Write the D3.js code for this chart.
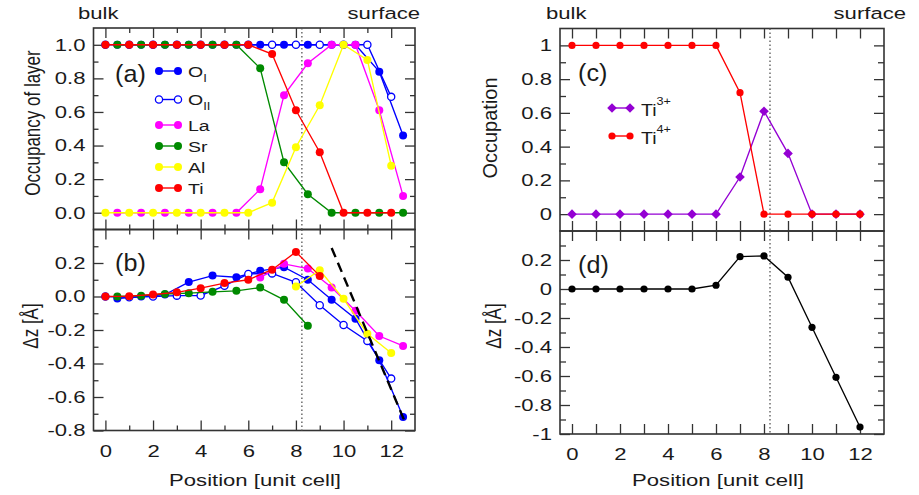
<!DOCTYPE html>
<html><head><meta charset="utf-8">
<script src="https://cdn.jsdelivr.net/npm/d3@7"></script>
<style>
body{margin:0;background:#fff}
svg{display:block}
text{font-family:"Liberation Sans",Arial,Helvetica,sans-serif;fill:#1a1a1a}
</style>
</head><body>
<svg id="chart" width="919" height="495"></svg>
<script>
// ---------- data ----------
const halfX = [0.5,1.5,2.5,3.5,4.5,5.5,6.5,7.5,8.5,9.5,10.5,11.5,12.5];
const intX  = [0,1,2,3,4,5,6,7,8,9,10,11,12];

// (a) occupancy of layer
const occOI  = [1,1,1,1,1,1,1,1,1,1,1,0.84,0.46];          // on halfX
const occOII = [1,1,1,1,1,1,1,1,1,1,1,1,0.69];              // on intX
const occLa  = [0,0,0,0,0,0,0.14,0.70,0.89,1,1,0.61,0.10];  // halfX
const occSr  = [1,1,1,1,1,1,0.86,0.30,0.11,0,0,0,0];        // halfX
const occAl  = [0,0,0,0,0,0,0,0.06,0.39,0.64,1,0.91,0.28];  // intX
const occTi  = [1,1,1,1,1,1,1,0.945,0.61,0.36,0,0,0];       // intX

// (b) displacement dz [Å]
const dzOI  = [-0.012,0.0,0.012,0.086,0.125,0.115,0.153,0.175,0.10,-0.02,-0.133,-0.38,-0.72];
const dzOII = [0,-0.005,0,0.005,0.006,0.064,0.135,0.138,0.085,-0.052,-0.17,-0.265,-0.49];
const dzLa  = [null,null,null,null,null,null,0.113,0.195,0.167,0.054,-0.085,-0.236,-0.295];
const dzSr  = [0,0.005,0.015,0.02,0.028,0.034,0.053,-0.02,-0.175,null,null,null,null];
const dzAl  = [null,null,null,null,null,null,null,null,0.06,0.157,-0.014,-0.222,-0.337];
const dzTi  = [0,0.002,0.012,0.025,0.05,0.08,0.10,0.16,0.266,0.123,null,null,null];
const guideX = [9.5,12.55];
const guideY = [0.29,-0.74];

// (c) Ti occupation
const ti3 = [0,0,0,0,0,0,0,0.22,0.61,0.36,0,0,0];
const ti4 = [1,1,1,1,1,1,1,0.72,0,0,0,0,0];

// (d) dz
const dzD = [0,0,0,0,0,0,0.026,0.223,0.228,0.081,-0.264,-0.609,-0.952];

const interfaceX = 8.25;

// ticks
const xMajor = [0,2,4,6,8,10,12];
const xMinor = [1,3,5,7,9,11];
const occMajor = [0,0.2,0.4,0.6,0.8,1.0];
const occMinor = [0.1,0.3,0.5,0.7,0.9];
const dzMajorL = [-0.8,-0.6,-0.4,-0.2,0,0.2];
const dzMinorL = [-0.7,-0.5,-0.3,-0.1,0.1,0.3];
const dzMajorR = [-1,-0.8,-0.6,-0.4,-0.2,0,0.2];
const dzMinorR = [-0.9,-0.7,-0.5,-0.3,-0.1,0.1,0.3];

// ---------- drawing ----------
const svg = d3.select("#chart");
const SX = 1.3;        // horizontal stretch of the original figure text
const FRAME = "#333";

const xL = d3.scaleLinear().domain([-0.5,13]).range([93.5,415]);
const yA = d3.scaleLinear().domain([-0.1,1.1]).range([229.5,28]);
const yB = d3.scaleLinear().domain([-0.8,0.4]).range([430.5,229.5]);
const xR = d3.scaleLinear().domain([-0.5,13]).range([560,884]);
const yC = d3.scaleLinear().domain([-0.1,1.1]).range([231,28.5]);
const yD = d3.scaleLinear().domain([-1,0.4]).range([434,231]);

function stext(x, y, opts={}) {
  const size = opts.size || 17, sx = opts.sx || SX;
  let tr = `translate(${x},${y}) scale(${sx},1)`;
  if (opts.rot) tr += ` rotate(${opts.rot})`;
  return svg.append("text").attr("transform", tr)
    .attr("text-anchor", opts.anchor || "start")
    .style("font-size", size + "px");
}

function styleAxis(g) {
  g.select(".domain").remove();
  g.selectAll(".tick line").attr("stroke", FRAME).attr("stroke-width", 1.3);
  g.selectAll(".tick text").style("font-size", "17px").attr("fill", "#1a1a1a");
}

function frame(x, y, o) {
  const L = x.range()[0], R = x.range()[1], B = y.range()[0], T = y.range()[1];
  const g = svg.append("g");
  const maj = 10, mnr = o.xAllMajor ? 10 : 5;
  g.append("g").attr("transform", `translate(${L},0)`)
    .call(d3.axisLeft(y).tickValues(o.yMajor).tickSizeInner(-maj).tickSizeOuter(0).tickPadding(0).tickFormat(o.fmt))
    .call(a => { styleAxis(a); a.selectAll(".tick text").attr("x", -8 / SX).attr("transform", `scale(${SX},1)`); });
  g.append("g").attr("transform", `translate(${L},0)`)
    .call(d3.axisLeft(y).tickValues(o.yMinor).tickSizeInner(-o.yMinorLen).tickSizeOuter(0).tickFormat(""))
    .call(styleAxis);
  g.append("g").attr("transform", `translate(${R},0)`)
    .call(d3.axisRight(y).tickValues(o.yMajor).tickSizeInner(-maj).tickSizeOuter(0).tickFormat(""))
    .call(styleAxis);
  g.append("g").attr("transform", `translate(${R},0)`)
    .call(d3.axisRight(y).tickValues(o.yMinor).tickSizeInner(-o.yMinorLen).tickSizeOuter(0).tickFormat(""))
    .call(styleAxis);
  g.append("g").attr("transform", `translate(0,${B})`)
    .call(d3.axisBottom(x).tickValues(xMajor).tickSizeInner(-maj).tickSizeOuter(0).tickPadding(14)
      .tickFormat(o.xLabels ? (d => d) : ""))
    .call(a => { styleAxis(a); a.selectAll(".tick text").attr("transform", `scale(${SX},1)`); });
  g.append("g").attr("transform", `translate(0,${B})`)
    .call(d3.axisBottom(x).tickValues(xMinor).tickSizeInner(-mnr).tickSizeOuter(0).tickFormat(""))
    .call(styleAxis);
  g.append("g").attr("transform", `translate(0,${T})`)
    .call(d3.axisTop(x).tickValues(xMajor).tickSizeInner(-maj).tickSizeOuter(0).tickFormat(""))
    .call(styleAxis);
  g.append("g").attr("transform", `translate(0,${T})`)
    .call(d3.axisTop(x).tickValues(xMinor).tickSizeInner(-mnr).tickSizeOuter(0).tickFormat(""))
    .call(styleAxis);
  g.append("rect").attr("x", L).attr("y", T).attr("width", R - L).attr("height", B - T)
    .attr("fill", "none").attr("stroke", FRAME).attr("stroke-width", 1.6);
}

function vline(x, y) {
  svg.append("line").attr("x1", x(interfaceX)).attr("x2", x(interfaceX))
    .attr("y1", y.range()[1]).attr("y2", y.range()[0])
    .attr("stroke", "#555").attr("stroke-width", 1.3).attr("stroke-dasharray", "1.5,2.5");
}

function diamondPath(h) { return `M0,${-h}L${h},0L0,${h}L${-h},0Z`; }

function series(x, y, xs, ys, color, o={}) {
  const pts = xs.map((v, i) => [v, ys[i]]).filter(p => p[1] !== null);
  const line = d3.line().x(d => x(d[0])).y(d => y(d[1]));
  const g = svg.append("g");
  g.append("path").attr("d", line(pts)).attr("fill", "none").attr("stroke", color)
    .attr("stroke-width", o.w || 1.35);
  if (o.marker === "diamond") {
    g.selectAll("path.m").data(pts).join("path").attr("class", "m")
      .attr("transform", d => `translate(${x(d[0])},${y(d[1])})`)
      .attr("d", diamondPath(o.r || 5)).attr("fill", color);
  } else {
    g.selectAll("circle").data(pts).join("circle")
      .attr("cx", d => x(d[0])).attr("cy", d => y(d[1])).attr("r", o.r || 4)
      .attr("fill", o.open ? "#fff" : color).attr("stroke", color).attr("stroke-width", o.open ? 1.3 : 0);
  }
}

const C = {OI:"#0000ff", OII:"#0000ff", La:"#ff00ff", Sr:"#008a00", Al:"#ffff00", Ti:"#ff0000", Ti3:"#9400d3", blk:"#000"};

// ----- left panels -----
const fmt1 = d => d.toFixed(1);
frame(xL, yA, {yMajor: occMajor, yMinor: occMinor, yMinorLen: 5, fmt: fmt1, xLabels: false});
frame(xL, yB, {yMajor: dzMajorL, yMinor: dzMinorL, yMinorLen: 5, fmt: fmt1, xLabels: true});
vline(xL, yA); vline(xL, yB);

series(xL, yA, halfX, occOI, C.OI);
series(xL, yA, intX, occOII, C.OII, {open: true, r: 3.6});
series(xL, yA, halfX, occLa, C.La);
series(xL, yA, halfX, occSr, C.Sr);
series(xL, yA, intX, occAl, C.Al);
series(xL, yA, intX, occTi, C.Ti);

series(xL, yB, halfX, dzOI, C.OI);
series(xL, yB, intX, dzOII, C.OII, {open: true, r: 3.6});
series(xL, yB, halfX, dzLa, C.La);
series(xL, yB, halfX, dzSr, C.Sr);
series(xL, yB, intX, dzAl, C.Al);
series(xL, yB, intX, dzTi, C.Ti);
svg.append("path")
  .attr("d", d3.line().x(d => xL(d[0])).y(d => yB(d[1]))(guideX.map((v, i) => [v, guideY[i]])))
  .attr("stroke", "#000").attr("stroke-width", 2.4).attr("stroke-dasharray", "10,6").attr("fill", "none");

// legend (a)
const legA = [
  {name: "O", sub: "I", c: C.OI, y: 71},
  {name: "O", sub: "II", c: C.OII, y: 99.5, open: true},
  {name: "La", c: C.La, y: 125},
  {name: "Sr", c: C.Sr, y: 146},
  {name: "Al", c: C.Al, y: 167},
  {name: "Ti", c: C.Ti, y: 188}
];
legA.forEach(e => {
  svg.append("line").attr("x1", 159).attr("x2", 178).attr("y1", e.y).attr("y2", e.y).attr("stroke", e.c).attr("stroke-width", 1.4);
  [159, 178].forEach(cx => svg.append("circle").attr("cx", cx).attr("cy", e.y).attr("r", e.open ? 3.6 : 4)
    .attr("fill", e.open ? "#fff" : e.c).attr("stroke", e.c).attr("stroke-width", e.open ? 1.3 : 0));
  const t = stext(188, e.y + 5.5, {size: 15});
  t.append("tspan").text(e.name);
  if (e.sub) t.append("tspan").attr("dy", 5).style("font-size", "10px").text(e.sub);
});

// panel labels
stext(115, 82, {size: 24, sx: 1.05}).text("(a)");
stext(115, 271, {size: 24, sx: 1.05}).text("(b)");
stext(578, 81, {size: 24, sx: 1.05}).text("(c)");
stext(578, 273, {size: 24, sx: 1.05}).text("(d)");

// axis titles left
stext(40, 123, {size: 17, rot: -90, anchor: "middle"}).text("Occupancy of layer");
stext(38, 326, {size: 17, rot: -90, anchor: "middle"}).text("Δz [Å]");
stext(255, 486, {size: 17, anchor: "middle"}).text("Position [unit cell]");
stext(78, 19, {size: 17}).text("bulk");
stext(420, 19, {size: 17, anchor: "end"}).text("surface");

// ----- right panels -----
const fmtR = d => String(+d.toFixed(1));
frame(xR, yC, {yMajor: occMajor, yMinor: occMinor, yMinorLen: 6, fmt: fmtR, xLabels: false, xAllMajor: true});
frame(xR, yD, {yMajor: dzMajorR, yMinor: dzMinorR, yMinorLen: 6, fmt: fmtR, xLabels: true, xAllMajor: true});
vline(xR, yC); vline(xR, yD);

series(xR, yC, intX, ti3, C.Ti3, {marker: "diamond", r: 4.8});
series(xR, yC, intX, ti4, C.Ti, {r: 3.6});
series(xR, yD, intX, dzD, C.blk, {r: 3.6});

// legend (c)
[{c: C.Ti3, y: 108, sup: "3+", m: "diamond"}, {c: C.Ti, y: 136, sup: "4+"}].forEach(e => {
  svg.append("line").attr("x1", 612).attr("x2", 630).attr("y1", e.y).attr("y2", e.y).attr("stroke", e.c).attr("stroke-width", 1.4);
  [612, 630].forEach(cx => {
    if (e.m) svg.append("path").attr("transform", `translate(${cx},${e.y})`).attr("d", diamondPath(4.8)).attr("fill", e.c);
    else svg.append("circle").attr("cx", cx).attr("cy", e.y).attr("r", 3.6).attr("fill", e.c);
  });
  const t = stext(641, e.y + 8, {size: 17, sx: 1.15});
  t.append("tspan").text("Ti");
  t.append("tspan").attr("dy", -11).style("font-size", "11px").text(e.sup);
});

stext(497, 128, {size: 20, rot: -90, anchor: "middle", sx: 1.05}).text("Occupation");
stext(501, 326, {size: 17, rot: -90, anchor: "middle"}).text("Δz [Å]");
stext(718, 486, {size: 17, anchor: "middle"}).text("Position [unit cell]");
stext(546, 19, {size: 17}).text("bulk");
stext(906, 19, {size: 17, anchor: "end"}).text("surface");
</script>
</body></html>
